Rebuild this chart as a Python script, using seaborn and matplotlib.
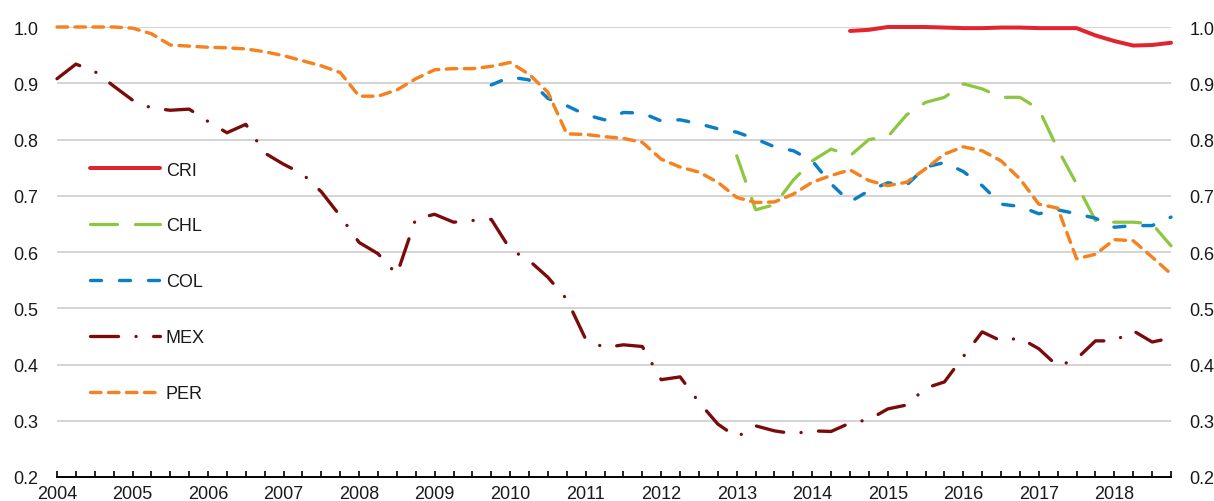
import numpy as np
import pandas as pd
import matplotlib
matplotlib.use("Agg")
import matplotlib.pyplot as plt
import seaborn as sns

nan = np.nan

# --- Quarterly data, 2004Q1 .. 2018Q4 ---
years = list(range(2004, 2019))
quarters = np.arange(60)

cri = [nan] * 42 + [0.993, 0.995, 1.000, 1.000, 1.000, 0.999, 0.998, 0.998, 0.999,
                    0.999, 0.998, 0.998, 0.998, 0.985, 0.975, 0.967, 0.968, 0.972]

chl = [nan] * 36 + [0.771, 0.675, 0.684, 0.728, 0.762, 0.783, 0.771, 0.800, 0.805,
                    0.844, 0.866, 0.875, 0.899, 0.890, 0.875, 0.875, 0.854, 0.783,
                    0.721, 0.656, 0.653, 0.653, 0.650, 0.611]

col = [nan] * 23 + [0.897, 0.911, 0.906, 0.873, 0.860, 0.844, 0.835, 0.848, 0.847,
                    0.833, 0.835, 0.828, 0.819, 0.813, 0.801, 0.787, 0.780, 0.762,
                    0.721, 0.689, 0.709, 0.723, 0.719, 0.751, 0.759, 0.743, 0.718,
                    0.685, 0.681, 0.668, 0.675, 0.668, 0.660, 0.644, 0.647, 0.647,
                    0.662]

mex = [0.908, 0.934, 0.921, 0.895, 0.870, 0.856, 0.852, 0.854, 0.832, 0.812,
       0.827, 0.776, 0.756, 0.739, 0.707, 0.664, 0.617, 0.597, 0.560, 0.659,
       0.667, 0.653, 0.656, 0.658, 0.605, 0.585, 0.555, 0.516, 0.445, 0.430,
       0.435, 0.432, 0.373, 0.378, 0.333, 0.294, 0.271, 0.291, 0.282, 0.277,
       0.282, 0.281, 0.296, 0.302, 0.321, 0.328, 0.358, 0.369, 0.414, 0.458,
       0.442, 0.447, 0.428, 0.397, 0.410, 0.442, 0.442, 0.460, 0.440, 0.447]

per = [1.000, 1.000, 1.000, 1.000, 0.998, 0.988, 0.968, 0.966, 0.964, 0.963,
       0.961, 0.956, 0.949, 0.940, 0.931, 0.919, 0.877, 0.877, 0.888, 0.908,
       0.924, 0.926, 0.926, 0.930, 0.937, 0.916, 0.884, 0.810, 0.809, 0.805,
       0.802, 0.795, 0.765, 0.751, 0.742, 0.724, 0.697, 0.688, 0.689, 0.703,
       0.724, 0.736, 0.746, 0.727, 0.718, 0.724, 0.748, 0.774, 0.787, 0.780,
       0.762, 0.730, 0.685, 0.678, 0.588, 0.596, 0.622, 0.620, 0.591, 0.561]

countries = ["CRI", "CHL", "COL", "MEX", "PER"]
series = {"CRI": cri, "CHL": chl, "COL": col, "MEX": mex, "PER": per}

df = pd.DataFrame({"quarter": quarters, **series})
long_df = df.melt(id_vars="quarter", var_name="country", value_name="value").dropna()

# --- Styles: colour, width (px), dash pattern (px) ---
colors = {"CRI": "#E1252F", "CHL": "#8DC63F", "COL": "#0B7FC6",
          "MEX": "#7B0A0A", "PER": "#F5821F"}
widths_px = {"CRI": 4.0, "CHL": 3.2, "COL": 3.4, "MEX": 3.3, "PER": 3.4}
dashes_px = {"CRI": None, "CHL": (27, 18), "COL": (11, 18), "MEX": (28, 17.5, 0.1, 17.5),
             "PER": (10.5, 7.5)}

sns.set_style("white")
plt.rcParams["font.family"] = ["Liberation Sans", "DejaVu Sans"]

fig = plt.figure(figsize=(12.14, 5.02), dpi=100)
ax = fig.add_axes([57 / 1214, 1 - 478 / 502, 1114 / 1214, 450 / 502])

for c in countries:
    sub = long_df[long_df["country"] == c]
    lw_pt = widths_px[c] * 0.72
    sns.lineplot(data=sub, x="quarter", y="value", ax=ax, color=colors[c],
                 linewidth=lw_pt, label=c, clip_on=False, zorder=3)
    line = ax.lines[-1]
    line.set_solid_capstyle("round")
    line.set_dash_capstyle("round")
    if dashes_px[c] is not None:
        line.set_dashes([d / widths_px[c] for d in dashes_px[c]])

ax.set_xlim(0, 59)
ax.set_ylim(0.2, 1.0)
ax.set_xlabel("")
ax.set_ylabel("")

ax.set_xticks(np.arange(0, 60, 4))
ax.set_xticklabels([str(y) for y in years])
ax.set_xticks(np.arange(0, 60, 1), minor=True)
ax.set_yticks(np.arange(0.2, 1.01, 0.1))
ax.set_yticklabels([f"{v:.1f}" for v in np.arange(0.2, 1.01, 0.1)])

ax.tick_params(axis="x", which="both", direction="in", length=4.3, width=1.2,
               color="black", bottom=True, pad=6, labelsize=13, labelcolor="#1a1a1a")
ax.tick_params(axis="y", length=0, labelsize=13, labelcolor="#1a1a1a", pad=13.5,
               labelleft=True, labelright=True)

ax.grid(axis="y", color="#C9C9C9", linewidth=1.1, zorder=0)
ax.grid(axis="x", visible=False)
for s in ["left", "right", "top"]:
    ax.spines[s].set_visible(False)
ax.spines["bottom"].set_color("black")
ax.spines["bottom"].set_linewidth(1.4)
ax.spines["bottom"].set_zorder(4)

handles = ax.lines[:len(countries)]
ax.legend(handles, countries, loc="upper left", bbox_to_anchor=(0.0295, 0.701),
          frameon=False, fontsize=13, handlelength=3.9, handletextpad=0.3,
          labelspacing=2.15, borderpad=0, borderaxespad=0, labelcolor="#1a1a1a")

fig.savefig("out.png", dpi=100)
